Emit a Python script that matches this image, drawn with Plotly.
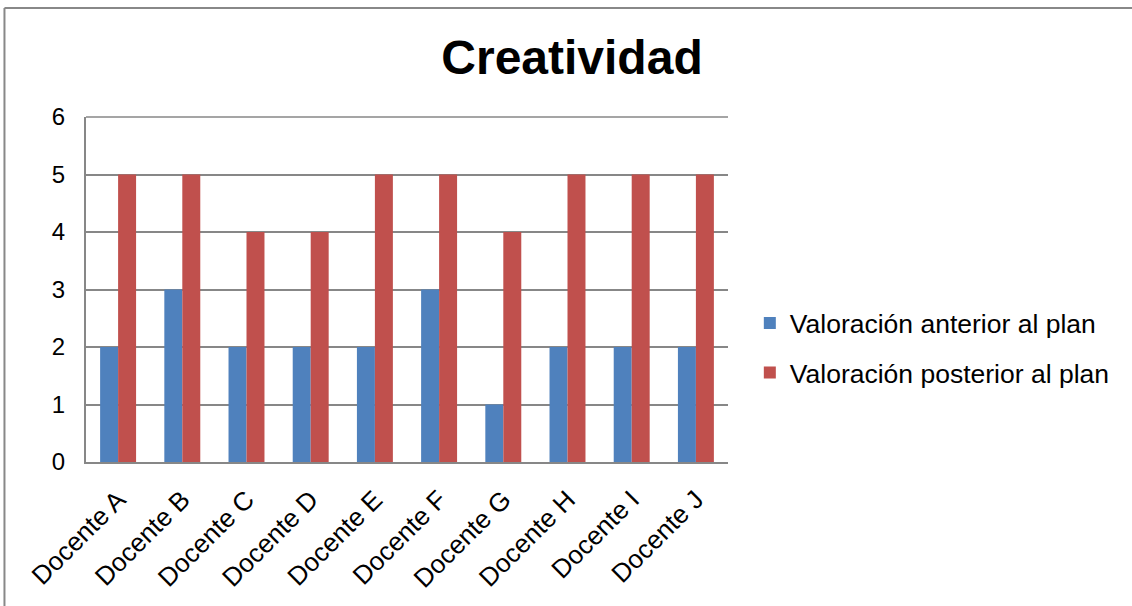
import plotly.graph_objects as go

_BLUE = '#4F81BD'
_RED = '#C0504D'
_GRID = '#878787'
_FONT = 'Liberation Sans, Arial, sans-serif'

docentes = ['Docente A', 'Docente B', 'Docente C', 'Docente D', 'Docente E',
            'Docente F', 'Docente G', 'Docente H', 'Docente I', 'Docente J']
anterior = [2, 3, 2, 2, 2, 3, 1, 2, 2, 2]
posterior = [5, 5, 4, 4, 5, 5, 4, 5, 5, 5]

fig = go.Figure()
fig.add_trace(go.Bar(x=docentes, y=anterior, name='Valoración anterior al plan',
                     marker=dict(color=_BLUE, line=dict(width=0)), legendgroup='a'))
fig.add_trace(go.Bar(x=docentes, y=posterior, name='Valoración posterior al plan',
                     marker=dict(color=_RED, line=dict(width=0)), legendgroup='b'))

_frame = dict(color='#888888', width=2)

fig.update_layout(
    width=1132, height=606,
    paper_bgcolor='white', plot_bgcolor='white',
    font=dict(family=_FONT, size=24, color='black'),
    margin=dict(l=86, r=404, t=117, b=140),
    barmode='group', bargap=0.44, bargroupgap=0,
    title=dict(text='<b>Creatividad</b>', x=0.5053, xanchor='center',
               y=0.906, yanchor='middle', font=dict(size=48, color='black')),
    legend=dict(x=1.034, xanchor='left', y=0.331, yanchor='middle',
                font=dict(size=26.5), itemwidth=30, tracegroupgap=12,
                bgcolor='rgba(0,0,0,0)'),
    showlegend=True,
    shapes=[
        # chart area frame (left and top edges; the rest lies outside the window)
        dict(type='line', xref='paper', yref='paper',
             x0=-0.127, x1=-0.127, y0=-0.45, y1=1.316, line=_frame, layer='below'),
        dict(type='line', xref='paper', yref='paper',
             x0=-0.127, x1=1.75, y0=1.316, y1=1.316, line=_frame, layer='below'),
        # top border of the plot area
        dict(type='line', xref='paper', yref='paper', x0=0, x1=1, y0=1, y1=1,
             line=dict(color=_GRID, width=1.5)),
    ],
)
fig.update_xaxes(showgrid=False, showline=True, linecolor=_GRID, linewidth=2,
                 tickangle=-45, tickfont=dict(size=26), ticks='', ticklabelstandoff=10)
fig.update_yaxes(range=[0, 6], dtick=1, showgrid=True, gridcolor=_GRID, gridwidth=1.5,
                 showline=True, linecolor=_GRID, linewidth=2, zeroline=False,
                 ticks='', ticklabelstandoff=14, tickfont=dict(size=24))

fig.write_html('out.html', config={'displayModeBar': False},
               post_script="document.body.style.margin='0';"
                           "document.body.style.overflow='hidden';")
